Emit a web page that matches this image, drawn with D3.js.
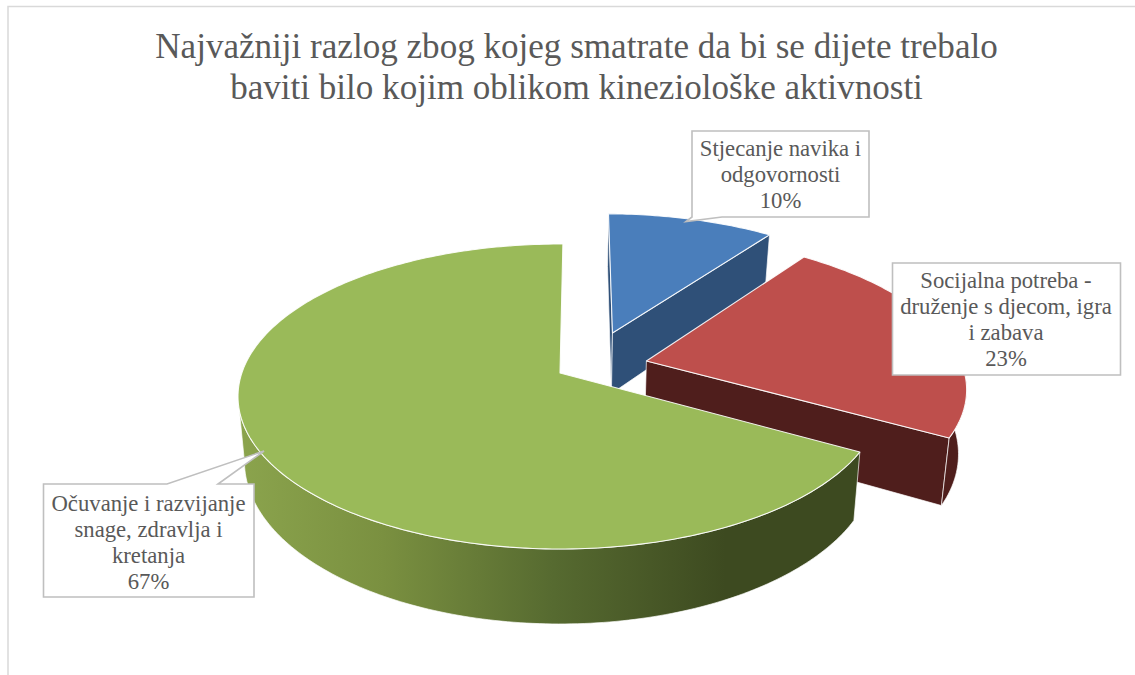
<!DOCTYPE html>
<html><head><meta charset="utf-8">
<script src="https://cdn.jsdelivr.net/npm/d3@7/dist/d3.min.js"></script>
<style>html,body{margin:0;padding:0;background:#fff;overflow:hidden}</style>
</head><body><svg id="c" width="1135" height="675"></svg>
<script>
const titleLines = ["Najvažniji razlog zbog kojeg smatrate da bi se dijete trebalo","baviti bilo kojim oblikom kineziološke aktivnosti"];
const categories = ["Stjecanje navika i odgovornosti","Socijalna potreba - druženje s djecom, igra i zabava","Očuvanje i razvijanje snage, zdravlja i kretanja"];
const categoryLines = [["Stjecanje navika i","odgovornosti"],["Socijalna potreba -","druženje s djecom, igra","i zabava"],["Očuvanje i razvijanje","snage, zdravlja i","kretanja"]];
const values = [10,23,67];
const explodeU = [0.172,0.275,0];
const explodeV = [0.28,0.082,0];
const topColors = ["#4a7ebb","#be4f4c","#9aba59"];
const wallColors = ["#2f5078","#4f1e1c",null];

const svg = d3.select("#c");
const PERSP = 0.154, SQ = Math.sqrt(1-PERSP*PERSP);
const ROT = 0.6*Math.PI/180;
const sx = d3.scaleLinear().domain([-1,1]).range([238,882]);
const sy = d3.scaleLinear().domain([-1,1]).range([549,244]);
function project(u,v){
  const w = 1+PERSP*v;
  return [sx(u*SQ/w), sy((v+PERSP)/w)];
}
function lower(p){
  return [p[0]-0.02*(p[0]-560), p[1]+54+0.067*(p[1]-236)];
}
const pie = d3.pie().sort(null).value(d=>d).startAngle(ROT).endAngle(2*Math.PI+ROT);
const arcs = pie(values);
const line = d3.line();
const defs = svg.append("defs");
const grad = defs.append("linearGradient").attr("id","gw").attr("gradientUnits","userSpaceOnUse")
  .attr("x1",237).attr("x2",725).attr("y1",0).attr("y2",0);
[[0,"#8ba44d"],[0.3,"#7a9040"],[0.65,"#566a30"],[1,"#3d4a20"]].forEach(s=>grad.append("stop").attr("offset",s[0]).attr("stop-color",s[1]));

function rim(i,a0,a1){
  const n = Math.max(2,Math.ceil(Math.abs(a1-a0)/(Math.PI/180)));
  return d3.range(n+1).map(k=>{
    const a=a0+(a1-a0)*k/n;
    return project(Math.sin(a)+explodeU[i],Math.cos(a)+explodeV[i]);
  });
}
const apex = i=>project(explodeU[i],explodeV[i]);
function drawWall(pts,fill){
  const bottom = pts.map(lower).reverse();
  svg.append("path").attr("d",line(pts.concat(bottom))+"Z").attr("fill",fill)
    .attr("stroke","#fff").attr("stroke-width",0.8).attr("stroke-opacity",0.85).attr("stroke-linejoin","round");
}
function drawTop(i){
  const d=arcs[i];
  const pts=[apex(i)].concat(rim(i,d.startAngle,d.endAngle));
  svg.append("path").attr("d",line(pts)+"Z").attr("fill",topColors[i])
    .attr("stroke","#fff").attr("stroke-width",1.1).attr("stroke-opacity",0.9).attr("stroke-linejoin","round");
}
// frame
svg.append("path").attr("d","M8,675V6.5H1135").attr("fill","none").attr("stroke","#d9d9d9").attr("stroke-width",1.5);

// blue
drawWall(rim(0,arcs[0].startAngle,arcs[0].startAngle).slice(0,1).concat([apex(0)]),wallColors[0]);
drawWall([apex(0)].concat(rim(0,arcs[0].endAngle,arcs[0].endAngle).slice(0,1)),wallColors[0]);
drawTop(0);
// red
drawWall([apex(1)].concat(rim(1,arcs[1].endAngle,arcs[1].endAngle).slice(0,1)),wallColors[1]);
drawWall(rim(1,arcs[1].endAngle,arcs[1].startAngle+0.9),wallColors[1]);
drawTop(1);
// green
drawWall(rim(2,arcs[2].startAngle,Math.PI*1.45),"url(#gw)");
drawTop(2);

// title
svg.append("g").selectAll("text").data(titleLines).join("text")
  .attr("x",576.5).attr("y",(d,i)=>58+i*41).attr("text-anchor","middle")
  .attr("font-family","'Liberation Serif',serif").attr("font-size",35.1).attr("fill","#595959").text(d=>d);

// labels
const boxes = [
  {x0:692,y0:131,x1:869,y1:217,ptr:[[722,217],[686,221.5],[692,217]],tx:780.5,ty:156},
  {x0:892.5,y0:263,x1:1120.5,y1:375,ptr:null,tx:1006,ty:288},
  {x0:43.5,y0:484,x1:254,y1:597,ptr:[[218,484],[264,451],[167,484]],tx:148.5,ty:511}
];
const boxLine = d3.line();
boxes.forEach((b,i)=>{
  let pts;
  if(i===0) pts=[[b.x0,b.y0],[b.x1,b.y0],[b.x1,b.y1]].concat(b.ptr).concat([[b.x0,b.y1]]);
  else if(i===2) pts=[[b.x0,b.y0]].concat(b.ptr.slice().reverse()).concat([[b.x1,b.y0],[b.x1,b.y1],[b.x0,b.y1]]);
  else pts=[[b.x0,b.y0],[b.x1,b.y0],[b.x1,b.y1],[b.x0,b.y1]];
  svg.append("path").attr("d",boxLine(pts)+"Z").attr("fill","#fff").attr("stroke","#bfbfbf").attr("stroke-width",1.6);
  const lines=categoryLines[i].concat([values[i]+"%"]);
  svg.append("g").selectAll("text").data(lines).join("text")
    .attr("x",b.tx).attr("y",(d,k)=>b.ty+k*26).attr("text-anchor","middle")
    .attr("font-family","'Liberation Serif',serif").attr("font-size",22.7).attr("fill","#595959").text(d=>d);
});
</script></body></html>
